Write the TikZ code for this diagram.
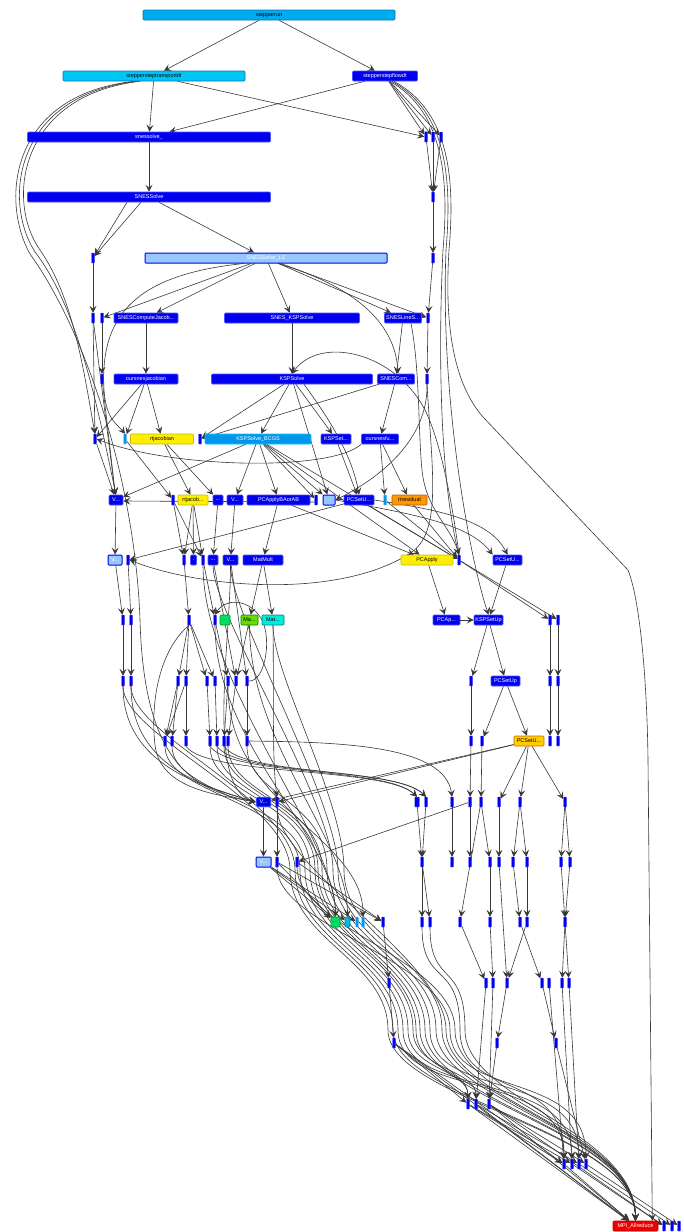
\documentclass[tikz,border=0pt]{standalone}
\usepackage{fontspec}
\setmainfont{Liberation Sans}
\usetikzlibrary{arrows.meta}
\definecolor{fnBlue}{RGB}{0,0,238}
\definecolor{fnEdge}{RGB}{80,80,255}
\definecolor{topCyan}{RGB}{0,172,240}
\definecolor{topCyanEdge}{RGB}{0,118,186}
\definecolor{midCyan}{RGB}{0,198,246}
\definecolor{bcgsBlue}{RGB}{0,150,236}
\definecolor{paleBlue}{RGB}{150,200,255}
\definecolor{hotYellow}{RGB}{255,238,0}
\definecolor{hotYellowEdge}{RGB}{196,186,0}
\definecolor{goldYellow}{RGB}{255,204,0}
\definecolor{hotOrange}{RGB}{255,152,0}
\definecolor{leafGreen}{RGB}{0,222,112}
\definecolor{limeGreen}{RGB}{102,222,0}
\definecolor{tealCyan}{RGB}{0,236,220}
\definecolor{mpiRed}{RGB}{238,0,0}
\definecolor{edgeGray}{RGB}{56,56,56}
\pgfdeclarelayer{edges}
\pgfsetlayers{edges,main}

\begin{document}
\begin{tikzpicture}[x=1pt, y=-1pt,
  fn/.style={draw=fnEdge, fill=fnBlue, line width=0.6pt, rounded corners=1pt, minimum height=10pt, inner sep=0pt, text=white, font=\fontsize{5.5}{6}\selectfont},
  wd/.style={minimum width=#1pt},
  topfn/.style={fn, fill=topCyan, draw=topCyanEdge, text=black},
  warm/.style={fn, fill=hotYellow, draw=hotYellowEdge, text=black},
  pale/.style={fn, fill=paleBlue, draw=fnBlue, line width=1pt},
  bar/.style={fill=fnBlue, draw=fnEdge, line width=0.4pt, minimum width=3pt, minimum height=10pt, inner sep=0pt, rounded corners=0.6pt},
  palebar/.style={bar, fill=bcgsBlue, draw=paleBlue},
  arrow/.style={-{Stealth[length=7pt,width=7pt,inset=3pt]}, draw=edgeGray, line width=0.6pt}
]
  \useasboundingbox (0,0) rectangle (683,1232);

  % named functions
  \node[topfn, wd=252] (stepperrun) at (269,15) {stepperrun};
  \node[topfn, fill=midCyan, wd=182] (transport) at (154,76) {steppersteptransportdt};
  \node[fn, wd=65] (flow) at (385,76) {stepperstepflowdt};
  \node[fn, wd=243] (snessolveA) at (149,137) {snessolve\_};
  \node[fn, wd=243] (snessolve) at (149,197) {SNESSolve};
  \node[pale, wd=242] (snesls) at (266,258) {SNESSolve\_LS};
  \node[fn, wd=64] (computejac) at (146,318) {SNESComputeJacob...};
  \node[fn, wd=135] (sneskspsolve) at (292,318) {SNES\_KSPSolve};
  \node[fn, wd=37] (linesearch) at (403,318) {SNESLineS...};
  \node[fn, wd=64] (oursjac) at (146,379) {oursnesjacobian};
  \node[fn, wd=161] (kspsolve) at (292,379) {KSPSolve};
  \node[fn, wd=37] (snescom) at (396,379) {SNESCom...};
  \node[warm, wd=63] (rtjacobian) at (162,439) {rtjacobian};
  \node[fn, fill=bcgsBlue, draw=midCyan, wd=106] (bcgs) at (258,439) {KSPSolve\_BCGS};
  \node[fn, wd=30] (kspset) at (336,439) {KSPSet...};
  \node[fn, wd=37] (oursfun) at (380,439) {oursnesfu...};
  \node[fn, wd=14] (vecA) at (116,500) {V...};
  \node[warm, wd=30] (rtjacob) at (193,500) {rtjacob...};
  \node[fn, wd=10] (dotsA) at (218,500) {...};
  \node[fn, wd=16] (vecB) at (235,500) {V...};
  \node[fn, wd=63] (pcapplyba) at (278.5,500) {PCApplyBAorAB};
  \node[pale, wd=12] (paleA) at (329,500) {};
  \node[fn, wd=30] (pcsetA) at (359,500) {PCSetU...};
  \node[warm, fill=hotOrange, draw=orange!70!black, wd=35] (rtresidual) at (409.5,500) {rtresidual};
  \node[pale, wd=14] (vecC) at (115,560) {V...};
  \node[fn, wd=6] (dotB) at (193.5,560) {.};
  \node[fn, wd=10] (dotsC) at (213,560) {...};
  \node[fn, wd=15] (vecD) at (230.5,560) {V...};
  \node[fn, wd=40] (matmult) at (263,560) {MatMult};
  \node[warm, wd=52] (pcapply) at (427,560) {PCApply};
  \node[fn, wd=29] (pcsetB) at (507.5,560) {PCSetU...};
  \node[fn, fill=leafGreen, draw=green!60!black, text=black, wd=10] (leafA) at (225,620) {...};
  \node[fn, fill=limeGreen, draw=green!50!black, text=black, wd=17] (matA) at (249.5,620) {Ma...};
  \node[fn, fill=tealCyan, draw=teal, text=black, wd=22] (matB) at (273,620) {Mat...};
  \node[fn, wd=27] (pcapB) at (446.5,620) {PCAp...};
  \node[fn, wd=29] (kspsetup) at (488.5,620) {KSPSetUp};
  \node[fn, wd=29] (pcsetup) at (505.5,681) {PCSetUp};
  \node[warm, fill=goldYellow, draw=orange!80!black, wd=30] (pcsetC) at (529,741) {PCSetU...};
  \node[fn, draw=paleBlue, wd=15] (vecE) at (263.5,802) {V...};
  \node[pale, wd=15] (vecF) at (263.5,862) {V...};
  \node[fn, fill=leafGreen, draw=green!60!black, text=black, wd=9] (leafB) at (335.5,922) {...};
  \node[fn, fill=tealCyan!80!blue, draw=teal, text=black, wd=5] (leafC) at (347.5,922) {};
  \node[fn, fill=mpiRed, draw=red!70!black, wd=45] (mpi) at (635.5,1226) {MPI\_Allreduce};

  % unnamed call sites
  \foreach \n/\x in {a1/426, a2/433, a3/441} \node[bar] (\n) at (\x,137) {};
  \node[bar] (b1) at (433,197) {};
  \foreach \n/\x in {c1/93, c2/433} \node[bar] (\n) at (\x,258) {};
  \foreach \n/\x in {d1/93, d2/102, d3/428} \node[bar] (\n) at (\x,318) {};
  \foreach \n/\x in {e1/102, e2/427} \node[bar] (\n) at (\x,379) {};
  \foreach \n/\x in {f1/95, f3/200} \node[bar] (\n) at (\x,439) {};
  \node[palebar] (f2) at (125,439) {};
  \foreach \n/\x in {g2/173, g4/316} \node[bar] (\n) at (\x,500) {};
  \node[palebar] (g6) at (385,500) {};
  \foreach \n/\x in {h2/128, h3/184, h5/203, h8/459} \node[bar] (\n) at (\x,560) {};
  \foreach \n/\x in {i1/123, i2/131, i3/189, i4/215, i5/550, i6/558} \node[bar] (\n) at (\x,620) {};
  \foreach \n/\x in {j1/123, j2/131, j3/178, j4/186, j5/207, j6/215, j7/228, j8/236, j9/247, j10/471, j11/550, j12/558}
    \node[bar] (\n) at (\x,681) {};
  \foreach \n/\x in {k1/165, k2/172, k3/186, k4/210, k5/217, k6/224, k7/228, k8/247, k9/471, k10/482, k11/550, k12/558}
    \node[bar] (\n) at (\x,741) {};
  \foreach \n/\x in {l1/277, l3/426, l4/452, l5/470, l6/481, l7/499, l8/520, l9/565} \node[bar] (\n) at (\x,802) {};
  \node[bar, minimum width=5pt, draw=paleBlue] (l2) at (417,802) {};
  \foreach \n/\x in {m1/277, m2/297, m3/422, m4/452, m5/470, m6/490, m7/499, m8/513, m9/527, m10/561, m11/570}
    \node[bar] (\n) at (\x,862) {};
  \foreach \n/\x in {n3/383, n4/422, n5/430, n6/460, n7/490, n8/520, n9/527, n10/565} \node[bar] (\n) at (\x,922) {};
  \foreach \n/\x in {n1/357, n2/363} \node[palebar] (\n) at (\x,922) {};
  \foreach \n/\x in {o1/389, o2/486, o3/493, o4/507, o5/542, o6/549, o7/562, o8/569} \node[bar] (\n) at (\x,983) {};
  \foreach \n/\x in {p1/394, p2/497, p3/556} \node[bar] (\n) at (\x,1043) {};
  \foreach \n/\x in {q1/468, q2/476, q3/489} \node[bar] (\n) at (\x,1104) {};
  \foreach \n/\x in {s1/564, s2/572, s3/579, s4/586} \node[bar] (\n) at (\x,1164) {};
  \foreach \n/\x in {t1/664, t2/672, t3/679} \node[bar] (\n) at (\x,1226) {};

  \begin{pgfonlayer}{edges}
  % direct calls
  \foreach \a/\b in {stepperrun/transport, stepperrun/flow, transport/snessolveA, transport/a1,
      flow/snessolveA, flow/a1, flow/a2, flow/a3, snessolveA/snessolve, a1/b1, a2/b1, a3/b1,
      b1/c2, c2/d3, d3/e2, c1/d1, d1/f1, d2/e1, snesls/d2, snesls/computejac, snesls/sneskspsolve,
      snesls/linesearch, snesls/d3, computejac/oursjac, sneskspsolve/kspsolve, linesearch/snescom,
      oursjac/f1, oursjac/f2, oursjac/rtjacobian, kspsolve/f3, kspsolve/bcgs, kspsolve/kspset,
      snescom/f3, snescom/oursfun,
      f1/vecA, e1/vecA, d1/vecA, f2/g2, rtjacobian/rtjacob, rtjacobian/dotsA, bcgs/vecA, bcgs/vecB,
      bcgs/pcapplyba, bcgs/g4, bcgs/paleA, bcgs/pcapply, bcgs/h8, kspset/pcsetA, oursfun/g6,
      oursfun/rtresidual, kspsolve/paleA,
      vecA/vecC, g2/h3, g2/h5, rtjacob/h3, rtjacob/dotB, rtjacob/h5, dotsA/dotsC, vecB/vecD,
      pcapplyba/matmult, pcapplyba/pcapply, pcsetA/h8, pcsetA/h2, g6/h8, rtresidual/h8,
      vecC/i1, h2/i2, h3/i3, h5/i4, matmult/matA, matmult/matB, pcapply/pcapB, h8/i5, h8/i6,
      pcsetB/kspsetup, pcapB/kspsetup,
      i1/j1, i2/j2, i3/j3, i3/j4, i3/j5, i3/j6, i4/j7, dotsC/j8, vecD/j9, matA/j8,
      kspsetup/j10, kspsetup/pcsetup, i5/j11, i6/j12,
      j3/k1, j3/k2, j4/k1, j4/k3, j5/k4, j6/k5, j7/k6, j8/k7, j9/k8, j10/k9, pcsetup/k10,
      pcsetup/pcsetC, j11/k11, j12/k12,
      pcsetC/l7, pcsetC/l8, pcsetC/l9, k9/l5, k10/l6, pcsetC/vecE, pcsetC/l1,
      vecE/vecF, l1/m1, l5/m2, l2/m3, l3/m3, l4/m4, l5/m5, l6/m6, l6/n6, l7/m7, l8/m8, l8/m9,
      l9/m10, l9/m11,
      vecF/leafB, vecF/leafC, vecF/n1, m1/leafB, m1/n3, m2/n3, m3/n4, m3/n5, m6/n7, m8/n8,
      m9/n9, m10/n10, m11/n10,
      n3/o1, n6/o2, n7/o3, n9/o4, n8/o5, m7/o4, n10/o7, n10/o8,
      o1/p1, o4/p2, o5/p3, o2/q2, o3/q3, p2/q3, p1/q1, o6/s1, o7/s2, o8/s3, p3/s4,
      p1/s1, p1/mpi, q1/s1, q1/s2, q2/s3, q2/mpi, q3/s4, q3/t1, q1/mpi, q3/mpi,
      s1/mpi, s2/t1, s3/t2, s4/t3}
    \draw[arrow] (\a) -- (\b);

  \draw[arrow] ([xshift=-22pt]snessolve.south) -- (c1);
  \draw[arrow] ([xshift=-8pt]snessolve.south) -- (c1);
  \draw[arrow] ([xshift=10pt]snessolve.south) -- ([xshift=-12pt]snesls.north);
  \draw[arrow] ([yshift=-2pt]g4.west) -- ([yshift=-1pt]vecA.east);

  % left loops of the transport step
  \draw[arrow] ([xshift=-14pt]transport.south) .. controls (20,95) and (5,200) .. (40,250)
    .. controls (75,300) and (85,380) .. (f1.north);
  \draw[arrow] ([xshift=-17pt]transport.south) .. controls (15,95) and (2,200) .. (35,252)
    .. controls (80,310) and (100,420) .. (vecA.north);
  \draw[arrow] ([xshift=-20pt]transport.south) .. controls (10,95) and (0,200) .. (30,254)
    .. controls (85,330) and (135,480) .. (140,620) .. controls (144,760) and (190,790) .. (vecE.west);

  % right bundle of the flow step
  \draw[arrow] ([xshift=5pt]flow.south) .. controls (440,110) and (450,170) .. (443,250)
    .. controls (438,350) and (440,480) .. (h8.north);
  \draw[arrow] ([xshift=7pt]flow.south) .. controls (443,110) and (453,170) .. (446,250)
    .. controls (440,400) and (470,560) .. (kspsetup.north);
  \draw[arrow] ([xshift=9pt]flow.south) .. controls (446,110) and (456,170) .. (449,250)
    .. controls (444,330) and (455,385) .. (483,417) -- (628,570)
    .. controls (640,600) and (647,680) .. (648,760) -- ([xshift=-6pt]mpi.north east);

  % solver internals
  \draw[arrow] ([xshift=-22pt]snesls.south) .. controls (130,275) and (100,320) .. (104,390)
    .. controls (106,420) and (118,425) .. (f2.north);
  \draw[arrow] ([xshift=12pt]snesls.south) .. controls (350,285) and (395,320) .. ([xshift=2pt]snescom.north);
  \draw[arrow] ([xshift=8pt]linesearch.south) .. controls (420,370) and (418,430) .. (422,470)
    .. controls (426,510) and (450,525) .. (h8.north);
  \draw[arrow] (h8.north) .. controls (452,500) and (440,440) .. (425,410)
    .. controls (395,352) and (320,335) .. (kspsolve.north);
  \draw[arrow] (e2.south) .. controls (428,430) and (395,470) .. (paleA.east);
  \draw[arrow] (e2.south) .. controls (432,470) and (442,530) .. (412,552)
    .. controls (340,600) and (200,588) .. (h2.east);
  \draw[arrow] (oursfun.south west) .. controls (330,472) and (170,468) .. (f1.east);
  \draw[arrow] ([xshift=12pt]kspsolve.south) .. controls (330,420) and (352,455) .. (pcsetA.north);
  \draw[arrow] (paleA.east) .. controls (420,515) and (470,525) .. (pcsetB.north west);
  \draw[arrow] (pcsetA.east) .. controls (440,510) and (490,520) .. (pcsetB.north);

  % matrix and vector kernels
  \draw[arrow] (j9.east) .. controls (265,682) and (272,640) .. (262,620)
    .. controls (250,598) and (225,598) .. (i4.north);
  \draw[arrow] (i3.south) .. controls (160,650) and (150,700) .. (155,745)
    .. controls (160,790) and (220,795) .. (vecE.west);
  \draw[arrow] (matB.south) .. controls (274,700) and (272,760) .. (l1.north);
  \draw[arrow] (k8.east) .. controls (340,742) and (445,745) .. (l4.north);
  \foreach \s/\t in {j1/vecE, j2/vecE, vecD/vecE}
    \draw[arrow] (\s.south) .. controls +(0,80) and +(-50,-15) .. (\t.west);
  \foreach \s/\t in {k3/l2, k4/l2, k5/l3, k6/l3}
    \draw[arrow] (\s.south) .. controls +(20,30) and +(-30,-30) .. (\t.north);
  \foreach \s/\t in {h5/leafB, i4/leafB, matA/leafC, j7/n2}
    \draw[arrow] (\s.south) .. controls +(0,120) and +(0,-80) .. (\t.north);

  % long sweeps towards the reductions
  \foreach \s/\t/\xa/\xb in {j1/mpi/290/388, j2/mpi/295/393, k1/s1/300/398, k2/s2/305/403,
      k7/mpi/322/420, k8/mpi/327/425, dotsC/s3/333/430, vecD/mpi/338/436, matB/mpi/344/442}
    \draw[arrow] (\s.south) .. controls +(0,50) and (\xa,800) .. (\xa,870)
      .. controls (\xa,940) and (\xb,960) .. (\xb,1030) .. controls (\xb,1100) and +(0,-90) .. (\t.north);
  \foreach \s/\t/\xa/\xb in {k4/q1/310/408, k5/q2/315/413, k6/q1/318/416}
    \draw[arrow] (\s.south) .. controls +(0,50) and (\xa,800) .. (\xa,870)
      .. controls (\xa,940) and (\xb,960) .. (\xb,1030) .. controls (\xb,1070) and +(0,-30) .. (\t.north);
  \foreach \s/\t/\xb in {l1/mpi/446, m1/s4/450, m2/mpi/455, n4/s1/460, n5/mpi/465}
    \draw[arrow] (\s.south) .. controls +(0,60) and (\xb,960) .. (\xb,1030)
      .. controls (\xb,1100) and +(0,-90) .. (\t.north);
  \end{pgfonlayer}
\end{tikzpicture}
\end{document}
